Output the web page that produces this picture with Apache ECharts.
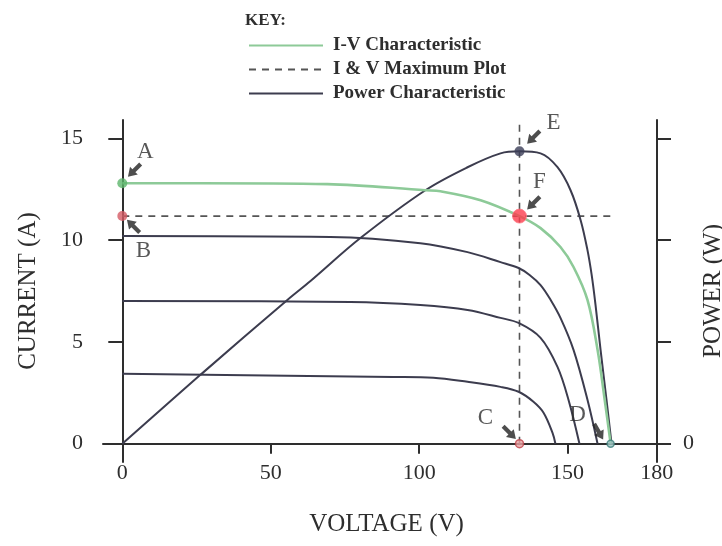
<!DOCTYPE html>
<html>
<head>
<meta charset="utf-8">
<script src="https://cdn.jsdelivr.net/npm/echarts@6/dist/echarts.min.js"></script>
<style>html,body{margin:0;padding:0;background:#fff}#c{width:722px;height:546px}</style>
</head>
<body>
<div id="c"></div>
<script>
// ---- data ----
const voltageTicks = [0, 50, 100, 150, 180];
const currentTicks = [0, 5, 10, 15];
const powerTicks = [0, 500, 1000, 1500];

// main I-V characteristic (green)
const ivMainV = [0, 26.3, 69.1, 102.1, 107.2, 120.7, 133.8, 140.9, 147.6, 152.0, 156.7, 160.1, 162.5, 164.5];
const ivMainI = [12.79, 12.79, 12.75, 12.45, 12.4, 11.96, 11.18, 10.59, 9.66, 8.68, 7.06, 4.61, 2.16, 0];
// lower I-V curves (dark)
const iv2V = [0, 70.1, 100.4, 116.3, 127.4, 133.5, 137.2, 140.9, 144.3, 147.6, 152.0, 156.7, 160.1];
const iv2I = [10.2, 10.15, 9.85, 9.41, 8.92, 8.63, 8.29, 7.79, 7.06, 6.18, 4.61, 2.16, 0];
const iv3V = [0, 76.8, 100.4, 116.3, 127.4, 133.5, 140.9, 146.6, 150.3, 154.0];
const iv3I = [7.01, 6.96, 6.81, 6.57, 6.18, 5.93, 5.2, 3.77, 2.16, 0];
const iv4V = [0, 91.3, 104.8, 116.3, 127.4, 133.5, 138.5, 141.9, 144.9, 145.9];
const iv4I = [3.43, 3.28, 3.24, 3.04, 2.79, 2.55, 2.06, 1.52, 0.54, 0];
// power characteristic
const powV = [0, 26.3, 55.6, 63.4, 80.2, 102.1, 116.3, 127.4, 133.8, 140.9, 146.6, 151.0, 154.4, 156.7, 158.1, 159.4, 161.1, 163.1, 164.8];
const powP = [0, 338, 706, 799, 1010, 1245, 1358, 1426, 1436, 1426, 1358, 1245, 1098, 951, 830, 683, 462, 216, 0];
// maximum power point and plot lines
const mppV = 133.8, mppI = 11.18, mppP = 1436;
const iscMain = 12.79, vocMain = 164.5;
const dashEndV = 165.5, dashTopI = 15.9;

const legendNames = ['I-V Characteristic', 'I & V Maximum Plot', 'Power Characteristic'];
const pointNames = ['A', 'B', 'C', 'D', 'E', 'F'];

// ---- chart ----
const FONT = 'Liberation Serif';
const INK = '#2e2e2e';
const CURVE = '#3c3c4e';
const GREEN = '#8dca98';
const xMin = -6.5, xMax = 184.5, yMin = -0.9, yMax = 15.9, pScale = 100;
const zip = (a, b) => a.map((v, i) => [v, b[i]]);
const arrowPath = 'path://M5,0L10,7.5L6.9,7.5L6.9,16L3.1,16L3.1,7.5L0,7.5Z';

const annotStyle = {
  A: { arrow: [12, -13], rot: 135, text: [23, -31] },
  B: { arrow: [11, 10], rot: 45, text: [21, 35] },
  C: { arrow: [-10, -11], rot: -135, text: [-34, -26] },
  D: { arrow: [-12, -12], rot: -150, text: [-33, -29] },
  E: { arrow: [14, -14], rot: 135, text: [34, -28] },
  F: { arrow: [14, -13], rot: 135, text: [20, -34] }
};
const anchors = {
  A: [0, iscMain], B: [0, mppI], C: [mppV, 0], D: [vocMain, 0], E: [mppV, mppP], F: [mppV, mppI]
};
function annotData(names) {
  return names.map(n => ({
    name: n, value: anchors[n],
    symbolRotate: annotStyle[n].rot, symbolOffset: annotStyle[n].arrow,
    label: { offset: annotStyle[n].text.map((v, i) => v - annotStyle[n].arrow[i]) }
  }));
}
const annotSeriesBase = {
  type: 'scatter', symbol: arrowPath, symbolSize: [11, 18], silent: true, z: 6,
  itemStyle: { color: '#222' },
  label: { show: true, position: 'inside', formatter: p => p.name, color: INK,
    fontFamily: FONT, fontSize: 23 }
};

const chart = echarts.init(document.getElementById('c'), null, { renderer: 'canvas' });
chart.setOption({
  animation: false,
  backgroundColor: '#fff',
  title: { text: 'KEY:', left: 240, top: 7,
    textStyle: { fontFamily: FONT, fontSize: 17, fontWeight: 'bold', color: INK } },
  legend: {
    data: legendNames, orient: 'vertical', left: 243, top: 31,
    itemWidth: 74, itemHeight: 10, itemGap: 5,
    itemStyle: { opacity: 0 },
    textStyle: { fontFamily: FONT, fontSize: 19, fontWeight: 'bold', color: INK, padding: [0, 0, 0, 5] }
  },
  grid: { left: 103, right: 52, top: 120, bottom: 84, containLabel: false, outerBoundsMode: 'none' },
  xAxis: {
    type: 'value', min: xMin, max: xMax,
    name: 'VOLTAGE (V)', nameLocation: 'middle', nameGap: 50,
    nameTextStyle: { fontFamily: FONT, fontSize: 25, color: INK },
    axisLine: { onZero: true, lineStyle: { color: INK, width: 2 } },
    axisTick: { customValues: voltageTicks.slice(1, 4), length: 10, lineStyle: { color: INK, width: 2 } },
    axisLabel: { customValues: voltageTicks, margin: 0, fontFamily: FONT, fontSize: 22, color: INK },
    splitLine: { show: false }
  },
  yAxis: [{
    type: 'value', min: yMin, max: yMax, position: 'left',
    name: 'CURRENT (A)', nameLocation: 'middle', nameGap: 62, nameRotate: 90,
    nameTextStyle: { fontFamily: FONT, fontSize: 25, color: INK },
    axisLine: { onZero: true, lineStyle: { color: INK, width: 2 } },
    axisTick: { customValues: currentTicks, length: 14, lineStyle: { color: INK, width: 2 } },
    axisLabel: { customValues: currentTicks, margin: 20, fontFamily: FONT, fontSize: 22, color: INK },
    splitLine: { show: false }
  }, {
    type: 'value', min: yMin * pScale, max: yMax * pScale, position: 'right', offset: -13,
    name: 'POWER (W)', nameLocation: 'middle', nameGap: 44, nameRotate: 90, nameMoveOverlap: false,
    nameTextStyle: { fontFamily: FONT, fontSize: 25, color: INK },
    axisLine: { onZero: false, lineStyle: { color: INK, width: 2 } },
    axisTick: { customValues: powerTicks, length: 14, lineStyle: { color: INK, width: 2 } },
    axisLabel: { customValues: [powerTicks[0]], margin: 26, fontFamily: FONT, fontSize: 22, color: INK },
    splitLine: { show: false }
  }],
  series: [
    { name: 'I & V Maximum Plot', type: 'line', symbol: 'none', z: 2,
      data: [[0, mppI], [dashEndV, mppI]], itemStyle: { color: '#555' },
      lineStyle: { color: '#555', width: 1.6, type: [7, 6] } },
    { name: 'I & V Maximum Plot', type: 'line', symbol: 'none', z: 2,
      data: [[mppV, 0], [mppV, dashTopI]], itemStyle: { color: '#555' },
      lineStyle: { color: '#555', width: 1.6, type: [7, 6] } },
    { name: 'I-V (lower curve 1)', type: 'line', symbol: 'none', smooth: 0.35, z: 3,
      data: zip(iv2V, iv2I), lineStyle: { color: CURVE, width: 2 } },
    { name: 'I-V (lower curve 2)', type: 'line', symbol: 'none', smooth: 0.35, z: 3,
      data: zip(iv3V, iv3I), lineStyle: { color: CURVE, width: 2 } },
    { name: 'I-V (lower curve 3)', type: 'line', symbol: 'none', smooth: 0.35, z: 3,
      data: zip(iv4V, iv4I), lineStyle: { color: CURVE, width: 2 } },
    { name: 'Power Characteristic', type: 'line', yAxisIndex: 1, symbol: 'none', smooth: 0.35, z: 3,
      data: zip(powV, powP), itemStyle: { color: CURVE }, lineStyle: { color: CURVE, width: 2 } },
    { name: 'I-V Characteristic', type: 'line', symbol: 'none', smooth: 0.35, z: 4,
      data: zip(ivMainV, ivMainI), itemStyle: { color: GREEN }, lineStyle: { color: GREEN, width: 2.6 } },
    { name: 'points', type: 'scatter', silent: true, z: 5,
      data: [
        { value: anchors.A, symbolSize: 10, itemStyle: { color: '#5cb56c' } },
        { value: anchors.B, symbolSize: 10, itemStyle: { color: '#d45a64' } },
        { value: anchors.C, symbolSize: 8, itemStyle: { color: '#eaa2a4', borderColor: '#c0464c', borderWidth: 1.5 } },
        { value: anchors.F, symbolSize: 14, itemStyle: { color: '#fb3c4c', borderColor: '#ff7a84', borderWidth: 1 } },
        { value: anchors.D, symbolSize: 7, itemStyle: { color: '#9fc7c4', borderColor: '#3f7f7c', borderWidth: 1.5 } }
      ] },
    { name: 'pointE', type: 'scatter', yAxisIndex: 1, silent: true, z: 5,
      data: [{ value: anchors.E, symbolSize: 10, itemStyle: { color: '#3b3d58' } }] },
    Object.assign({}, annotSeriesBase, { name: 'labels', data: annotData(['A', 'B', 'C', 'D', 'F']) }),
    Object.assign({}, annotSeriesBase, { name: 'labelE', yAxisIndex: 1, data: annotData(['E']) })
  ]
});
</script>
</body>
</html>
